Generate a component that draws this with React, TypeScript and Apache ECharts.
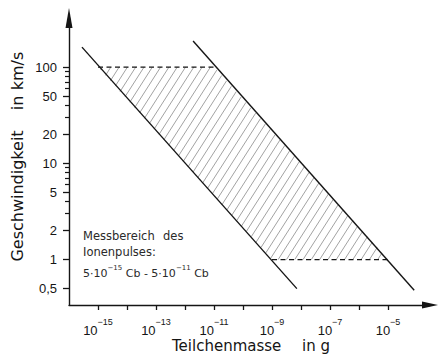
import React, { useEffect, useRef } from "react";
import * as echarts from "echarts";

// ---- data (real values, log-log chart) ----
const xTickExponents = [-15, -14, -13, -12, -11, -10, -9, -8, -7, -6, -5];
const xLabelExponents = [-15, -13, -11, -9, -7, -5];
const yMajorTicks = [0.5, 1, 2, 5, 10, 20, 50, 100];
const yTickLabels = ["0,5", "1", "2", "5", "10", "20", "50", "100"];
const yMinorTicks = [3, 4, 6, 7, 8, 9, 30, 40, 60, 70, 80, 90];

const leftLineMass = [2.8e-16, 7.2e-9];
const leftLineSpeed = [161, 0.5];
const rightLineMass = [1.9e-12, 8e-5];
const rightLineSpeed = [186, 0.48];
const topDashMass = [1e-15, 1e-11];
const topDashSpeed = [100, 100];
const bottomDashMass = [1e-9, 1e-5];
const bottomDashSpeed = [1, 1];
const hatchMass = [1e-15, 1e-11, 1e-5, 1e-9];
const hatchSpeed = [100, 100, 1, 1];

const xMinLog = -16;
const xMaxLog = -3.552;
const yMinLog = Math.log10(0.338);
const yMaxLog = Math.log10(323);

const L = Math.log10;
const toPts = (ms: number[], vs: number[]) => ms.map((m, i) => [L(m), L(vs[i])]);

const INK = "#151515";
const FONT = "Liberation Sans";
const FONT2 = "DejaVu Sans";

export default function App() {
  const ref = useRef<HTMLDivElement>(null);
  useEffect(() => {
    if (!ref.current) return;
    const chart = echarts.init(ref.current, null, { renderer: "svg" });
    const lineStyle = { color: INK, width: 1.4 };
    const option: any = {
      animation: false,
      backgroundColor: "#fff",
      grid: { left: 69, right: 8, top: 18, bottom: 51, containLabel: false, outerBoundsMode: "none" },
      xAxis: {
        type: "value",
        min: xMinLog,
        max: xMaxLog,
        axisLine: {
          show: true,
          onZero: false,
          symbol: ["none", "triangle"],
          symbolSize: [7, 16],
          lineStyle: { color: INK, width: 1.4 },
        },
        axisTick: {
          show: true,
          customValues: xTickExponents,
          length: 5,
          lineStyle: { color: INK, width: 1.3 },
        },
        axisLabel: {
          show: true,
          customValues: xLabelExponents,
          margin: 12,
          formatter: (v: number) => `{b|10}{s|−${Math.abs(Math.round(v))}}`,
          rich: {
            b: { fontSize: 13, fontFamily: FONT, color: INK, lineHeight: 26 },
            s: { fontSize: 9, fontFamily: FONT, color: INK, lineHeight: 9, verticalAlign: "top" },
          },
        },
        splitLine: { show: false },
      },
      yAxis: [
        {
          type: "value",
          min: yMinLog,
          max: yMaxLog,
          position: "left",
          axisLine: {
            show: true,
            onZero: false,
            symbol: ["none", "triangle"],
            symbolSize: [7, 20],
            lineStyle: { color: INK, width: 1.4 },
          },
          axisTick: {
            show: true,
            customValues: yMajorTicks.map(L),
            length: 6,
            lineStyle: { color: INK, width: 1.3 },
          },
          axisLabel: {
            show: true,
            customValues: yMajorTicks.map(L),
            margin: 12,
            fontSize: 13,
            fontFamily: FONT,
            color: INK,
            formatter: (v: number) => {
              let best = 0;
              yMajorTicks.forEach((t, i) => {
                if (Math.abs(L(t) - v) < Math.abs(L(yMajorTicks[best]) - v)) best = i;
              });
              return yTickLabels[best];
            },
          },
          splitLine: { show: false },
        },
        {
          type: "value",
          min: yMinLog,
          max: yMaxLog,
          position: "left",
          axisLine: { show: false },
          axisTick: {
            show: true,
            customValues: yMinorTicks.map(L),
            length: 4,
            lineStyle: { color: INK, width: 1.2 },
          },
          axisLabel: { show: false },
          splitLine: { show: false },
        },
      ],
      series: [
        {
          type: "custom",
          z: 1,
          silent: true,
          clip: false,
          data: [toPts(hatchMass, hatchSpeed)[0]],
          renderItem: (_params: any, api: any) => {
            const P = hatchMass.map((m, i) => api.coord([L(m), L(hatchSpeed[i])]));
            const yT = P[0][1];
            const yB = P[3][1];
            const H = yB - yT;
            const tE = (P[0][0] - P[3][0]) / H;
            const t = 0.64;
            const spacing = 8.3;
            const xBL = P[3][0];
            const xBR = P[2][0];
            const xTL = P[0][0];
            const denom = t - tE;
            const children: any[] = [];
            for (let a = xBR - 2; a > xTL - H * t - 1; a -= spacing) {
              const u0 = Math.max(0, (xBL - a) / denom);
              const u1 = Math.min(H, (xBR - a) / denom);
              if (u1 <= u0 + 0.5) continue;
              children.push({
                type: "line",
                shape: { x1: a + u0 * t, y1: yB - u0, x2: a + u1 * t, y2: yB - u1 },
                style: { stroke: "#8a8a8a", lineWidth: 0.8 },
              });
            }
            return { type: "group", children };
          },
        },
        {
          type: "line",
          z: 3,
          symbol: "none",
          data: toPts(leftLineMass, leftLineSpeed),
          lineStyle,
        },
        {
          type: "line",
          z: 3,
          symbol: "none",
          data: toPts(rightLineMass, rightLineSpeed),
          lineStyle,
        },
        {
          type: "line",
          z: 3,
          symbol: "none",
          data: toPts(topDashMass, topDashSpeed),
          lineStyle: { color: INK, width: 1.3, type: [5, 3.5] },
        },
        {
          type: "line",
          z: 3,
          symbol: "none",
          data: toPts(bottomDashMass, bottomDashSpeed),
          lineStyle: { color: INK, width: 1.3, type: [5, 3.5] },
        },
      ],
      graphic: [
        {
          type: "text",
          x: 17,
          y: 196,
          rotation: Math.PI / 2,
          style: { text: "Geschwindigkeit", fontSize: 16, fontFamily: FONT2, fill: INK, align: "center", verticalAlign: "middle" },
        },
        {
          type: "text",
          x: 17,
          y: 103,
          rotation: Math.PI / 2,
          style: { text: "in", fontSize: 16, fontFamily: FONT2, fill: INK, align: "center", verticalAlign: "middle" },
        },
        {
          type: "text",
          x: 17,
          y: 71,
          rotation: Math.PI / 2,
          style: { text: "km/s", fontSize: 16, fontFamily: FONT2, fill: INK, align: "center", verticalAlign: "middle" },
        },
        {
          type: "text",
          x: 172,
          y: 346,
          style: { text: "Teilchenmasse", fontSize: 15, fontFamily: FONT2, fill: INK, align: "left", verticalAlign: "middle" },
        },
        {
          type: "text",
          x: 302,
          y: 346,
          style: { text: "in g", fontSize: 15, fontFamily: FONT2, fill: INK, align: "left", verticalAlign: "middle" },
        },
        {
          type: "text",
          x: 83,
          y: 236,
          style: { text: "Messbereich", fontSize: 11.5, fontFamily: FONT2, fill: "#2a2a2a", align: "left", verticalAlign: "middle" },
        },
        {
          type: "text",
          x: 163,
          y: 236,
          style: { text: "des", fontSize: 11.5, fontFamily: FONT2, fill: "#2a2a2a", align: "left", verticalAlign: "middle" },
        },
        {
          type: "text",
          x: 83,
          y: 252,
          style: { text: "Ionenpulses:", fontSize: 11.5, fontFamily: FONT2, fill: "#2a2a2a", align: "left", verticalAlign: "middle" },
        },
        {
          type: "text",
          x: 83,
          y: 273,
          style: {
            text: "{m|5·10}{s|−15}{m| Cb - 5·10}{s|−11}{m| Cb}",
            fill: "#2a2a2a",
            align: "left",
            verticalAlign: "middle",
            rich: {
              m: { fontSize: 11, fontFamily: FONT2, fill: "#2a2a2a", lineHeight: 18 },
              s: { fontSize: 7, fontFamily: FONT2, fill: "#2a2a2a", lineHeight: 7, verticalAlign: "top" },
            },
          },
        },
      ],
    };
    chart.setOption(option);
    return () => chart.dispose();
  }, []);
  return (
    <div
      ref={ref}
      style={{ position: "fixed", left: 0, top: 0, width: 438, height: 356, background: "#fff" }}
    />
  );
}
